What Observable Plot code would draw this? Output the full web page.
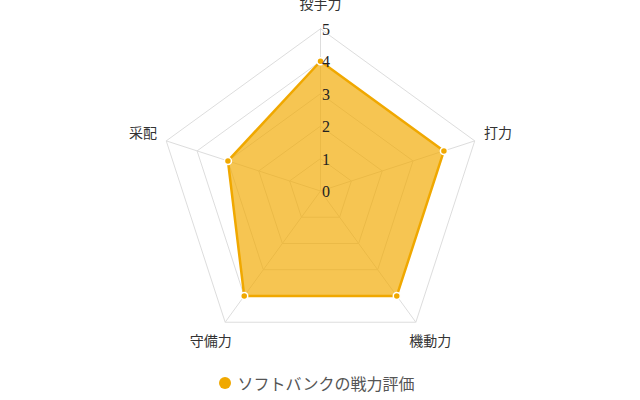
<!DOCTYPE html>
<html><head><meta charset="utf-8">
<script src="https://cdn.jsdelivr.net/npm/d3@7"></script>
<script src="https://cdn.jsdelivr.net/npm/@observablehq/plot@0.6"></script>
<style>
body{margin:0;background:#fff;width:640px;height:400px;overflow:hidden}
#legend{height:34px;display:flex;align-items:center;justify-content:center;font-family:"Noto Sans CJK JP";font-size:16px;color:#555;padding-right:7px;box-sizing:border-box}
#legend .dot{width:12px;height:12px;border-radius:50%;background:#f0a800;margin-right:7px}
</style></head>
<body><div id="chart"></div><div id="legend"></div>
<script>
const axes = ["投手力", "打力", "機動力", "守備力", "采配"];
const values = [4, 4, 4, 4, 3];
const tickValues = [0, 1, 2, 3, 4, 5];
const seriesName = "ソフトバンクの戦力評価";
const maxValue = 5;

const k = 32.44, W = 640, H = 366, cx = 320, cy = 190.5;
const ang = i => i * 2 * Math.PI / axes.length;
const pt = (i, r) => ({x: r * Math.sin(ang(i)), y: r * Math.cos(ang(i))});

const rings = [];
for (const r of tickValues.filter(v => v > 0)) {
  for (let i = 0; i <= axes.length; i++) rings.push({ring: r, ...pt(i % axes.length, r)});
}
const spokes = axes.map((a, i) => ({x1: 0, y1: 0, x2: pt(i, maxValue).x, y2: pt(i, maxValue).y}));
const poly = values.map((v, i) => ({axis: axes[i], value: v, ...pt(i, v)}));
const polyClosed = [...poly, poly[0]];
const labels = axes.map((a, i) => ({label: a, ...pt(i, maxValue + 0.75)}));
const tickData = tickValues.map(v => ({v, x: 0, y: v}));

const chart = Plot.plot({
  width: W, height: H, margin: 0,
  x: {domain: [-cx / k, (W - cx) / k], axis: null},
  y: {domain: [-(H - cy) / k, cy / k], axis: null},
  marks: [
    Plot.line(rings, {x: "x", y: "y", z: "ring", stroke: "#dddddd", strokeWidth: 1}),
    Plot.link(spokes, {x1: "x1", y1: "y1", x2: "x2", y2: "y2", stroke: "#dddddd", strokeWidth: 1}),
    Plot.line(polyClosed, {x: "x", y: "y", fill: "rgba(241,170,0,0.68)", stroke: "#f0a800", strokeWidth: 2.5, strokeLinejoin: "miter"}),
    Plot.dot(poly, {x: "x", y: "y", r: 3.5, fill: "#f0a800", stroke: "#ffffff", strokeWidth: 1.5}),
    Plot.text(tickData, {x: "x", y: "y", text: "v", textAnchor: "start", dx: 1.5, dy: 1, fontFamily: "Liberation Serif", fontSize: 16, fill: "#222"}),
    Plot.text(labels, {x: "x", y: "y", text: "label", fontFamily: "Noto Sans CJK JP", fontSize: 14, fill: "#333"})
  ]
});
document.getElementById("chart").appendChild(chart);
const lg = document.getElementById("legend");
lg.innerHTML = `<span class="dot"></span><span></span>`;
lg.lastChild.textContent = seriesName;
</script>
</body></html>
